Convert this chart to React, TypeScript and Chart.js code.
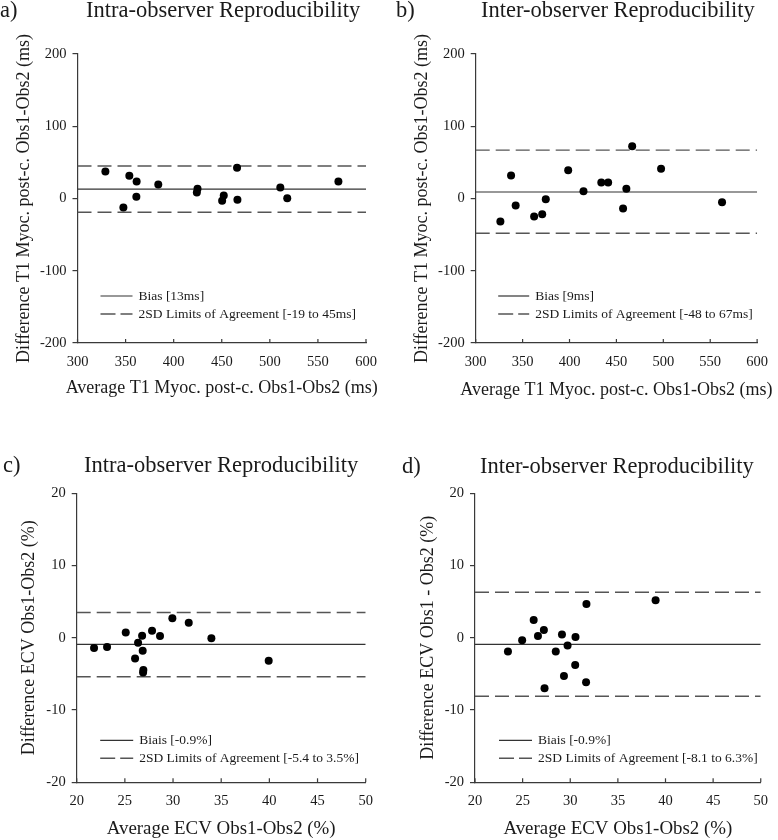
import React, { useEffect, useRef } from "react";
import { Chart, registerables } from "chart.js";

Chart.register(...registerables);

// ---------- Data ----------
const aAvg = [329, 353.9, 347.7, 361.5, 361.2, 384, 424.8, 424.1, 450.4, 452.1, 465.9, 466.3, 510.9, 518.1, 571.3];
const aDiff = [37.4, 31.4, -12.5, 23.5, 2.3, 19.4, 13.4, 8.3, -3.2, 4.2, 42.4, -1.8, 15.2, 0.5, 23.5];
const aStats = [13, -19, 45]; // bias, lower, upper

const bAvg = [326.3, 337.7, 342.6, 362.3, 370.9, 374.7, 398.6, 414.9, 433.9, 441.2, 457.1, 460.6, 466.8, 497.6, 562.6];
const bDiff = [-31.8, 31.8, -9.7, -24.9, -21.7, -0.9, 39.2, 10.1, 22.1, 22.1, -13.8, 13.4, 72.4, 41.1, -5.1];
const bStats = [9, -48, 67];

const cAvg = [21.8, 23.15, 25.09, 26.06, 26.37, 26.79, 26.85, 26.92, 26.89, 27.82, 28.65, 29.93, 31.63, 33.98, 39.93];
const cDiff = [-1.41, -1.27, 0.72, -2.88, -0.67, 0.3, -1.78, -4.45, -4.82, 0.99, 0.25, 2.7, 2.1, -0.07, -3.16];
const cStats = [-0.9, -5.4, 3.5];

const dAvg = [23.46, 24.95, 26.16, 26.61, 27.23, 27.3, 28.48, 29.13, 29.34, 29.72, 30.55, 30.52, 31.7, 31.66, 38.96];
const dDiff = [-1.9, -0.35, 2.45, 0.25, 1.08, -6.99, -1.9, 0.44, -5.28, -1.08, 0.12, -3.76, 4.69, -6.16, 5.2];
const dStats = [-0.9, -8.1, 6.3];

const t1XTicks = [300, 600, 50];
const t1YTicks = [-200, 200, 100];
const ecvXTicks = [20, 50, 5];
const ecvYTicks = [-20, 20, 10];

const FONT = '"Liberation Serif", "Times New Roman", serif';
const TXT = "#1a1a1a";
const AXIS = "#3a3a3a";

type PanelCfg = {
  letter: string;
  title: string;
  xTitle: string;
  yTitle: string;
  avg: number[];
  diff: number[];
  stats: number[];
  xr: number[];
  yr: number[];
  biasLabel: string;
  loaLabel: string;
  left: number;
  right: number;
  top: number;
  bottom: number;
  letterX: number;
  titleX: number;
  titleY: number;
  yTitleX: number;
  xTitleY: number;
  xTitleSize: number;
  legX: number;
  legY1: number;
  legY2: number;
  legLen: number;
};

const W = 389;
const H = 420;

const panels: PanelCfg[] = [
  {
    letter: "a)", title: "Intra-observer Reproducibility",
    xTitle: "Average T1 Myoc. post-c. Obs1-Obs2 (ms)",
    yTitle: "Difference T1 Myoc. post-c. Obs1-Obs2 (ms)",
    avg: aAvg, diff: aDiff, stats: aStats, xr: t1XTicks, yr: t1YTicks,
    biasLabel: "Bias [13ms]", loaLabel: "2SD Limits of Agreement [-19 to 45ms]",
    left: 77.5, right: 366, top: 54, bottom: 343,
    letterX: 0, titleX: 86, titleY: 17, yTitleX: 24, xTitleY: 388, xTitleSize: 18,
    legX: 23, legY1: 47, legY2: 29, legLen: 32,
  },
  {
    letter: "b)", title: "Inter-observer Reproducibility",
    xTitle: "Average T1 Myoc. post-c. Obs1-Obs2 (ms)",
    yTitle: "Difference T1 Myoc. post-c. Obs1-Obs2 (ms)",
    avg: bAvg, diff: bDiff, stats: bStats, xr: t1XTicks, yr: t1YTicks,
    biasLabel: "Bias [9ms]", loaLabel: "2SD Limits of Agreement [-48 to 67ms]",
    left: 86.7, right: 375.7, top: 54, bottom: 343,
    letterX: 7, titleX: 92, titleY: 17, yTitleX: 33.5, xTitleY: 390, xTitleSize: 18,
    legX: 22.5, legY1: 47, legY2: 29, legLen: 31,
  },
  {
    letter: "c)", title: "Intra-observer Reproducibility",
    xTitle: "Average ECV Obs1-Obs2 (%)",
    yTitle: "Difference ECV Obs1-Obs2 (%)",
    avg: cAvg, diff: cDiff, stats: cStats, xr: ecvXTicks, yr: ecvYTicks,
    biasLabel: "Biais [-0.9%]", loaLabel: "2SD Limits of Agreement [-5.4 to 3.5%]",
    left: 76.7, right: 365.7, top: 73.3, bottom: 362.3,
    letterX: 3, titleX: 84, titleY: 52, yTitleX: 29, xTitleY: 409, xTitleSize: 18.9,
    legX: 23.5, legY1: 42, legY2: 24, legLen: 33,
  },
  {
    letter: "d)", title: "Inter-observer Reproducibility",
    xTitle: "Average ECV Obs1-Obs2 (%)",
    yTitle: "Difference ECV Obs1 - Obs2 (%)",
    avg: dAvg, diff: dDiff, stats: dStats, xr: ecvXTicks, yr: ecvYTicks,
    biasLabel: "Biais [-0.9%]", loaLabel: "2SD Limits of Agreement [-8.1 to 6.3%]",
    left: 86, right: 375, top: 73.3, bottom: 362.3,
    letterX: 13, titleX: 91, titleY: 53, yTitleX: 39, xTitleY: 409, xTitleSize: 18.9,
    legX: 24, legY1: 42, legY2: 24, legLen: 33,
  },
];

const BIAS_COLOR = "#333333";
const LOA_COLOR = "#555555";

function Panel({ cfg }: { cfg: PanelCfg }) {
  const ref = useRef<HTMLCanvasElement | null>(null);

  useEffect(() => {
    const canvas = ref.current;
    if (!canvas) return;
    const [xMin, xMax, xStep] = cfg.xr;
    const [yMin, yMax, yStep] = cfg.yr;
    const [bias, lo, hi] = cfg.stats;
    const pts = cfg.avg.map((x, i) => ({ x, y: cfg.diff[i] }));

    const decor = {
      id: "decor" + cfg.letter,
      afterDraw(chart: any) {
        const ctx = chart.ctx;
        const ca = chart.chartArea;
        const xs = chart.scales.x;
        ctx.save();
        // inward x ticks
        ctx.strokeStyle = AXIS;
        ctx.lineWidth = 1.2;
        xs.ticks.forEach((t: any) => {
          const px = xs.getPixelForValue(t.value);
          ctx.beginPath();
          ctx.moveTo(px, ca.bottom);
          ctx.lineTo(px, ca.bottom - 4);
          ctx.stroke();
        });
        // titles
        ctx.fillStyle = TXT;
        ctx.textBaseline = "alphabetic";
        ctx.textAlign = "left";
        ctx.font = `22.5px ${FONT}`;
        ctx.fillText(cfg.letter, cfg.letterX, cfg.titleY);
        ctx.fillText(cfg.title, cfg.titleX, cfg.titleY);
        // axis titles
        const cx = (ca.left + ca.right) / 2;
        const cy = (ca.top + ca.bottom) / 2;
        ctx.textAlign = "center";
        ctx.textBaseline = "middle";
        ctx.font = `${cfg.xTitleSize}px ${FONT}`;
        ctx.fillText(cfg.xTitle, cx, cfg.xTitleY);
        ctx.save();
        ctx.translate(cfg.yTitleX, cy);
        ctx.rotate(-Math.PI / 2);
        ctx.font = `18px ${FONT}`;
        ctx.fillText(cfg.yTitle, 0, 0);
        ctx.restore();
        // legend
        const lx = ca.left + cfg.legX;
        const y1 = ca.bottom - cfg.legY1;
        const y2 = ca.bottom - cfg.legY2;
        ctx.lineWidth = 1.2;
        ctx.strokeStyle = BIAS_COLOR;
        ctx.setLineDash([]);
        ctx.beginPath();
        ctx.moveTo(lx, y1);
        ctx.lineTo(lx + cfg.legLen, y1);
        ctx.stroke();
        ctx.strokeStyle = LOA_COLOR;
        ctx.lineWidth = 1.4;
        ctx.setLineDash([15, 5]);
        ctx.beginPath();
        ctx.moveTo(lx, y2);
        ctx.lineTo(lx + cfg.legLen, y2);
        ctx.stroke();
        ctx.setLineDash([]);
        ctx.font = `13.5px ${FONT}`;
        ctx.textAlign = "left";
        ctx.textBaseline = "middle";
        ctx.fillStyle = TXT;
        ctx.fillText(cfg.biasLabel, lx + cfg.legLen + 6, y1);
        ctx.fillText(cfg.loaLabel, lx + cfg.legLen + 6, y2);
        ctx.restore();
      },
    };

    const lineDs = (y: number, color: string, dash: number[], width: number) => ({
      type: "scatter" as const,
      data: [
        { x: xMin, y },
        { x: xMax, y },
      ],
      showLine: true,
      borderColor: color,
      borderWidth: width,
      borderDash: dash,
      pointRadius: 0,
      pointHoverRadius: 0,
      order: 2,
    });

    const chart = new Chart(canvas, {
      type: "scatter",
      data: {
        datasets: [
          {
            data: pts,
            backgroundColor: "#000000",
            borderColor: "#000000",
            borderWidth: 0,
            pointRadius: 4,
            order: 1,
          } as any,
          lineDs(bias, BIAS_COLOR, [], 1.2),
          lineDs(hi, LOA_COLOR, [14, 6], 1.4),
          lineDs(lo, LOA_COLOR, [14, 6], 1.4),
        ],
      },
      options: {
        animation: false,
        responsive: false,
        devicePixelRatio: 1,
        events: [],
        layout: {
          padding: { left: 0, top: cfg.top, right: W - cfg.right, bottom: 0 },
        },
        plugins: {
          legend: { display: false },
          tooltip: { enabled: false },
          title: { display: false },
        },
        scales: {
          x: {
            type: "linear",
            min: xMin,
            max: xMax,
            ticks: {
              stepSize: xStep,
              font: { family: FONT, size: 14.5 },
              color: TXT,
              padding: 10,
            },
            grid: { drawOnChartArea: false, drawTicks: false },
            border: { display: true, color: AXIS, width: 1.2 },
            title: { display: false },
            afterFit: (s: any) => {
              s.height = H - cfg.bottom;
            },
          },
          y: {
            type: "linear",
            min: yMin,
            max: yMax,
            ticks: {
              stepSize: yStep,
              font: { family: FONT, size: 14.5 },
              color: TXT,
              padding: 6,
            },
            grid: {
              drawOnChartArea: false,
              drawTicks: true,
              tickLength: 5,
              color: AXIS,
              lineWidth: 1.2,
            },
            border: { display: true, color: AXIS, width: 1.2 },
            title: { display: false },
            afterFit: (s: any) => {
              s.width = cfg.left;
            },
          },
        },
      } as any,
      plugins: [decor],
    });
    return () => chart.destroy();
  }, [cfg]);

  return <canvas ref={ref} width={W} height={H} style={{ display: "block", width: W, height: H }} />;
}

export default function App() {
  return (
    <div
      style={{
        position: "absolute",
        left: 0,
        top: 0,
        width: 778,
        height: 840,
        background: "#ffffff",
        display: "grid",
        gridTemplateColumns: `${W}px ${W}px`,
        gridTemplateRows: `${H}px ${H}px`,
      }}
    >
      {panels.map((p) => (
        <Panel key={p.letter} cfg={p} />
      ))}
    </div>
  );
}
